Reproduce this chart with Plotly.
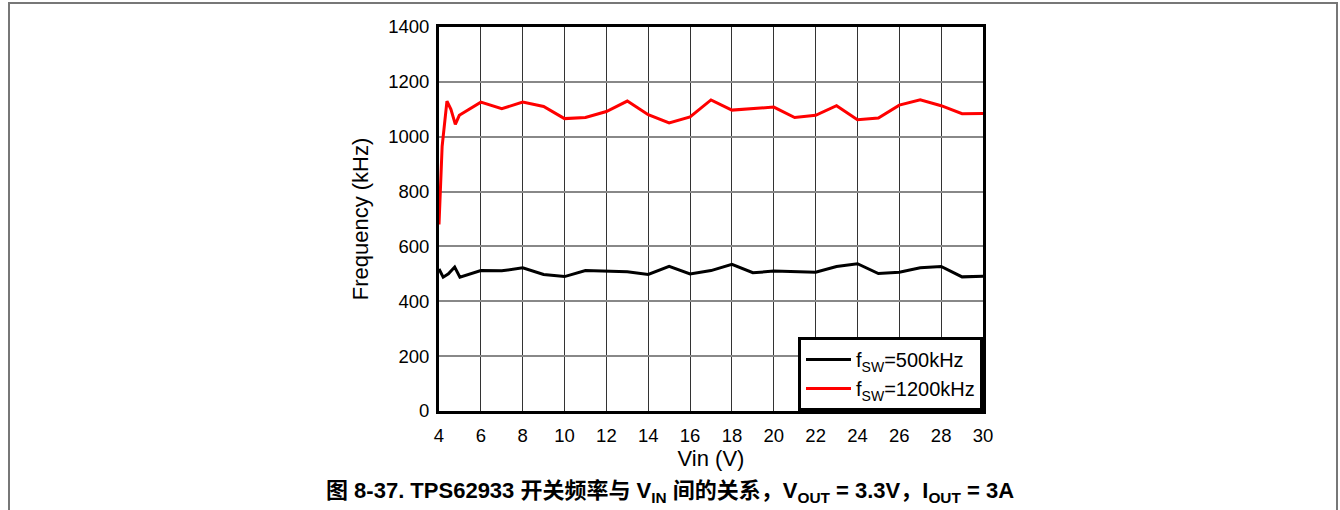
import plotly.graph_objects as go

# Data
vin_500 = [4.0, 4.2, 4.45, 4.75, 5.0, 6, 7, 8, 9, 10, 11, 12, 13, 14, 15, 16, 17, 18, 19, 20,
           21, 22, 23, 24, 25, 26, 27, 28, 29, 30]
f_500 = [518, 488, 500, 525, 488, 512, 511, 522, 498, 490, 512, 511, 508, 498, 527, 500, 512, 535,
         504, 510, 508, 506, 527, 537, 501, 506, 522, 527, 489, 491]

vin_1200 = [4.0, 4.15, 4.38, 4.57, 4.78, 4.97, 6, 7, 8, 9, 10, 11, 12, 13, 14, 15, 16, 17, 18, 19,
            20, 21, 22, 23, 24, 25, 26, 27, 28, 29, 30]
f_1200 = [680, 965, 1130, 1100, 1045, 1078, 1126, 1102, 1126, 1110, 1066, 1070, 1092, 1130, 1080,
          1050, 1072, 1134, 1097, 1102, 1108, 1070, 1078, 1113, 1062, 1068, 1115, 1135, 1113, 1084, 1085]

x_ticks = list(range(4, 31, 2))
y_ticks = list(range(0, 1401, 200))

FONT = "Liberation Sans, Arial, Noto Sans CJK SC, sans-serif"

L, R, T, B = 439, 983, 27, 411
PW, PH = R - L, B - T

fig = go.Figure()
fig.add_trace(go.Scatter(x=vin_500, y=f_500, mode="lines", name="f<sub>SW</sub>=500kHz",
                         line=dict(color="black", width=3)))
fig.add_trace(go.Scatter(x=vin_1200, y=f_1200, mode="lines", name="f<sub>SW</sub>=1200kHz",
                         line=dict(color="#ff0000", width=3)))

fig.update_layout(
    width=1340, height=510,
    margin=dict(l=L, r=1340 - R, t=T, b=510 - B),
    paper_bgcolor="white", plot_bgcolor="white",
    font=dict(family=FONT, size=18.5, color="black"),
    showlegend=True,
    legend=dict(x=1, y=0, xanchor="right", yanchor="bottom",
                bgcolor="white", bordercolor="black", borderwidth=3,
                font=dict(size=20, family=FONT), tracegroupgap=0,
                itemwidth=45),
    xaxis=dict(range=[4, 30], tickvals=x_ticks, showgrid=True, gridcolor="#333333", gridwidth=1,
               showline=True, linecolor="black", linewidth=3, mirror=True, ticks="",
               zeroline=False, title=dict(text="Vin (V)", standoff=0),
               ticklabelstandoff=6, tickfont=dict(size=18.5)),
    yaxis=dict(range=[0, 1400], tickvals=y_ticks, showgrid=True, gridcolor="#888888", gridwidth=2,
               showline=True, linecolor="black", linewidth=3, mirror=True, ticks="",
               zeroline=False, title=dict(text="Frequency (kHz)", standoff=14),
               ticklabelstandoff=3, tickfont=dict(size=18.5)),
)

# outer gray page frame
fig.add_shape(type="rect", xref="paper", yref="paper",
              x0=(9 - L) / PW, x1=(1337 - L) / PW,
              y0=(B - 530) / PH, y1=(B - 3) / PH,
              line=dict(color="#777777", width=2), fillcolor="rgba(0,0,0,0)", layer="below")

fig.add_annotation(
    xref="paper", yref="paper", x=(670 - L) / PW, y=(B - 492) / PH,
    xanchor="center", yanchor="middle", showarrow=False,
    text="<b>图 8-37. TPS62933 开关频率与 V<sub>IN</sub> 间的关系，V<sub>OUT</sub> = 3.3V，I<sub>OUT</sub> = 3A</b>",
    font=dict(family=FONT, size=22, color="black"),
)

fig.write_html("out.html", config={"displayModeBar": False},
               post_script="document.body.style.margin='0';")
